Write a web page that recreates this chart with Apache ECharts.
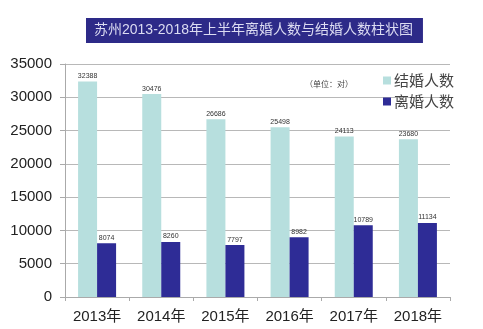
<!DOCTYPE html>
<html>
<head>
<meta charset="utf-8">
<script src="https://cdn.jsdelivr.net/npm/echarts@6/dist/echarts.min.js"></script>
<style>
  html, body { margin: 0; padding: 0; background: #fff; }
  #chart { width: 483px; height: 329px; }
</style>
</head>
<body>
<div id="chart"></div>
<script>
// Suzhou marriage / divorce registrations, 2013 – first half of 2018
const years = ['2013年', '2014年', '2015年', '2016年', '2017年', '2018年'];
const marriages = [32388, 30476, 26686, 25498, 24113, 23680];
const divorces = [8074, 8260, 7797, 8982, 10789, 11134];
const yTicks = [0, 5000, 10000, 15000, 20000, 25000, 30000, 35000];

const FONT = '"Liberation Sans", "Noto Sans CJK SC", sans-serif';
const chart = echarts.init(document.getElementById('chart'));

chart.setOption({
  animation: false,
  backgroundColor: '#ffffff',
  textStyle: { fontFamily: FONT },
  title: {
    text: '苏州2013-2018年上半年离婚人数与结婚人数柱状图',
    left: 86,
    top: 18,
    padding: [4, 10, 4, 8],
    backgroundColor: '#2d2a88',
    textStyle: { color: '#dcdcf2', fontSize: 14, fontWeight: 'normal', fontFamily: FONT, lineHeight: 17 }
  },
  graphic: [{
    type: 'text',
    left: 305,
    top: 80,
    style: { text: '（单位：对）', fill: '#444', font: '8px "Noto Sans CJK SC", sans-serif' }
  }],
  legend: {
    orient: 'vertical',
    left: 378,
    top: 68,
    itemWidth: 8,
    itemHeight: 8,
    itemGap: 6,
    icon: 'rect',
    data: ['结婚人数', '离婚人数'],
    textStyle: { fontSize: 15, color: '#444', fontFamily: '"Noto Sans CJK SC", sans-serif', padding: [0, 0, 0, -2] }
  },
  grid: { left: 65, right: 33, top: 64, bottom: 32 },
  xAxis: {
    type: 'category',
    data: years,
    axisLine: { lineStyle: { color: '#aaaaaa' } },
    axisTick: { show: true, length: 4, lineStyle: { color: '#aaaaaa' } },
    axisLabel: { fontSize: 15, color: '#222', margin: 12, fontFamily: FONT }
  },
  yAxis: {
    type: 'value',
    min: yTicks[0],
    max: yTicks[yTicks.length - 1],
    interval: 5000,
    axisLine: { show: true, lineStyle: { color: '#aaaaaa' } },
    axisTick: { show: true, length: 5, lineStyle: { color: '#aaaaaa' } },
    axisLabel: { fontSize: 15, color: '#222', margin: 13, fontFamily: FONT, formatter: v => String(v) },
    splitLine: { lineStyle: { color: '#b8b8b8' } }
  },
  series: [
    {
      name: '结婚人数',
      type: 'bar',
      data: marriages,
      barWidth: 19,
      barGap: '0%',
      itemStyle: { color: '#b7dfde' },
      label: { show: true, position: 'top', distance: 2, fontSize: 7, color: '#333', fontFamily: FONT }
    },
    {
      name: '离婚人数',
      type: 'bar',
      data: divorces,
      barWidth: 19,
      barGap: '0%',
      itemStyle: { color: '#2e2c96' },
      label: { show: true, position: 'top', distance: 2, fontSize: 7, color: '#333', fontFamily: FONT }
    }
  ]
});
</script>
</body>
</html>
